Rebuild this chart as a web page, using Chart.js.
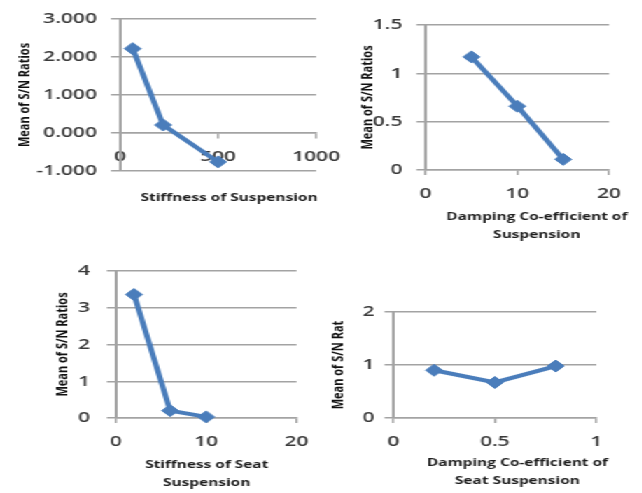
<!DOCTYPE html>
<html>
<head>
<meta charset="utf-8">
<title>Mean of S/N Ratios</title>
<script src="https://cdn.jsdelivr.net/npm/chart.js@4.4.1/dist/chart.umd.min.js"></script>
<style>
  html, body { margin: 0; padding: 0; background: #fff; overflow: hidden; }
  #sheet { position: absolute; left: 0; top: 0; height: 493px; transform-origin: 0 0; }
  #sheet canvas { position: absolute; }
</style>
</head>
<body>
<div id="sheet">
  <canvas id="stiffChart"></canvas>
  <canvas id="dampChart"></canvas>
  <canvas id="seatStiffChart"></canvas>
  <canvas id="seatDampChart"></canvas>
</div>
<script>
// Mean of S/N ratios against each suspension parameter level
const stiffness = [65, 220, 500];
const snStiffness = [2.22, 0.21, -0.76];

const damping = [5, 10, 15];
const snDamping = [1.17, 0.66, 0.11];

const seatStiffness = [2, 6, 10];
const snSeatStiffness = [3.36, 0.2, 0.03];

const seatDamping = [0.2, 0.5, 0.8];
const snSeatDamping = [0.9, 0.67, 0.98];

// the sheet is laid out narrow and then widened
const SX = 1.4;
const BLUE = '#4a7dbb';
const GRID = '#a3a3a3';
const FONT = '"Open Sans", "Liberation Sans", sans-serif';
const TITLE_SIZE = 11;

const sheet = document.getElementById('sheet');
sheet.style.width = (642 / SX) + 'px';
sheet.style.transform = 'scaleX(' + SX + ')';

function lineChart(id, cfg) {
    const box = cfg.box, area = cfg.area;
    const titleLineH = 18;
    // left padding puts the y title where it belongs
    const pL = (cfg.yTitleX - box.left) / SX - TITLE_SIZE * 0.6;
    const yW = (area.left - box.left) / SX - pL;
    // canvas width chosen so the bottom title centres on titleX
    const w = 2 * (cfg.titleX - box.left) / SX - pL;
    const rightW = w - (area.right - box.left) / SX;
    const pT = area.top - box.top;
    const xH = cfg.axisAtZero ? 0 : 32;
    const titlePadTop = cfg.titleY - (area.bottom + xH) - titleLineH / 2;
    const titleH = titlePadTop + cfg.xTitle.length * titleLineH + 4;
    const h = Math.round(area.bottom - box.top + xH + titleH);

    const canvas = document.getElementById(id);
    canvas.width = Math.round(w);
    canvas.height = h;
    canvas.style.left = (box.left / SX) + 'px';
    canvas.style.top = box.top + 'px';

    const tickFont = { family: FONT, size: 15, weight: '600' };

    return new Chart(canvas.getContext('2d'), {
        type: 'line',
        data: {
            datasets: [{
                data: cfg.xs.map((x, i) => ({ x: x, y: cfg.ys[i] })),
                borderColor: BLUE,
                backgroundColor: BLUE,
                borderWidth: 4,
                pointStyle: 'rectRot',
                pointRadius: 6,
                pointBorderWidth: 1,
                tension: 0,
                clip: false
            }]
        },
        options: {
            responsive: false,
            animation: false,
            layout: { padding: { left: pL, right: 0, top: pT, bottom: 0 } },
            plugins: {
                legend: { display: false },
                tooltip: { enabled: false },
                title: {
                    display: true,
                    position: 'bottom',
                    text: cfg.xTitle,
                    color: '#1e1e1e',
                    font: { family: FONT, weight: 'bold', size: TITLE_SIZE, lineHeight: titleLineH / TITLE_SIZE },
                    padding: { top: titlePadTop, bottom: 4 }
                }
            },
            scales: {
                x: {
                    type: 'linear',
                    position: cfg.axisAtZero ? { y: 0 } : 'bottom',
                    min: cfg.xMin,
                    max: cfg.xMax,
                    ticks: {
                        stepSize: cfg.xStep,
                        color: '#3a3a3a',
                        font: tickFont,
                        padding: 10,
                        maxRotation: 0,
                        callback: v => String(v)
                    },
                    grid: { drawOnChartArea: false, drawTicks: true, tickLength: 5, color: GRID, lineWidth: 1.5 },
                    border: { display: true, color: GRID, width: 1.5 },
                    afterFit: cfg.axisAtZero ? undefined : function (s) { s.height = xH; }
                },
                y: {
                    min: cfg.yMin,
                    max: cfg.yMax,
                    ticks: {
                        stepSize: cfg.yStep,
                        color: '#3a3a3a',
                        font: tickFont,
                        padding: cfg.yPad,
                        callback: cfg.yFormat || (v => String(v))
                    },
                    grid: { color: GRID, lineWidth: 1.5, drawTicks: true, tickLength: 6.5 },
                    border: { display: true, color: GRID, width: 2 },
                    title: {
                        display: true,
                        text: cfg.yTitle,
                        color: '#111',
                        font: { family: FONT, weight: 'bold', size: TITLE_SIZE },
                        padding: 0
                    },
                    afterFit: function (s) { s.width = yW; }
                },
                // blank right-hand strip so the plot keeps its width
                spacer: {
                    type: 'linear',
                    position: 'right',
                    grid: { display: false },
                    border: { display: false },
                    ticks: { display: false },
                    afterFit: function (s) { s.width = rightW; }
                }
            }
        }
    });
}

lineChart('stiffChart', {
    box: { left: 0, top: 0 },
    area: { left: 120, top: 14, right: 316, bottom: 171 },
    yTitleX: 25, titleX: 229, titleY: 198, axisAtZero: true, yPad: 10,
    xs: stiffness, ys: snStiffness,
    xMin: 0, xMax: 1000, xStep: 500,
    yMin: -1, yMax: 3, yStep: 1,
    yFormat: v => v.toFixed(3),
    yTitle: 'Mean of S/N Ratios',
    xTitle: ['Stiffness of Suspension']
});

lineChart('dampChart', {
    box: { left: 334, top: 0 },
    area: { left: 425, top: 25, right: 608, bottom: 170 },
    yTitleX: 367, titleX: 536, titleY: 217, axisAtZero: false, yPad: 10,
    xs: damping, ys: snDamping,
    xMin: 0, xMax: 20, xStep: 10,
    yMin: 0, yMax: 1.5, yStep: 0.5,
    yTitle: 'Mean of S/N Ratios',
    xTitle: ['Damping Co-efficient of', 'Suspension']
});

lineChart('seatStiffChart', {
    box: { left: 0, top: 250 },
    area: { left: 116, top: 268, right: 297, bottom: 418 },
    yTitleX: 63, titleX: 207, titleY: 465, axisAtZero: false, yPad: 12,
    xs: seatStiffness, ys: snSeatStiffness,
    xMin: 0, xMax: 20, xStep: 10,
    yMin: 0, yMax: 4, yStep: 1,
    yTitle: 'Mean of S/N Ratios',
    xTitle: ['Stiffness of Seat', 'Suspension']
});

lineChart('seatDampChart', {
    box: { left: 320, top: 280 },
    area: { left: 393, top: 312, right: 596, bottom: 418 },
    yTitleX: 338, titleX: 517, titleY: 463, axisAtZero: false, yPad: 7,
    xs: seatDamping, ys: snSeatDamping,
    xMin: 0, xMax: 1, xStep: 0.5,
    yMin: 0, yMax: 2, yStep: 1,
    yTitle: 'Mean of S/N Rat',
    xTitle: ['Damping Co-efficient of', 'Seat Suspension']
});
</script>
</body>
</html>
